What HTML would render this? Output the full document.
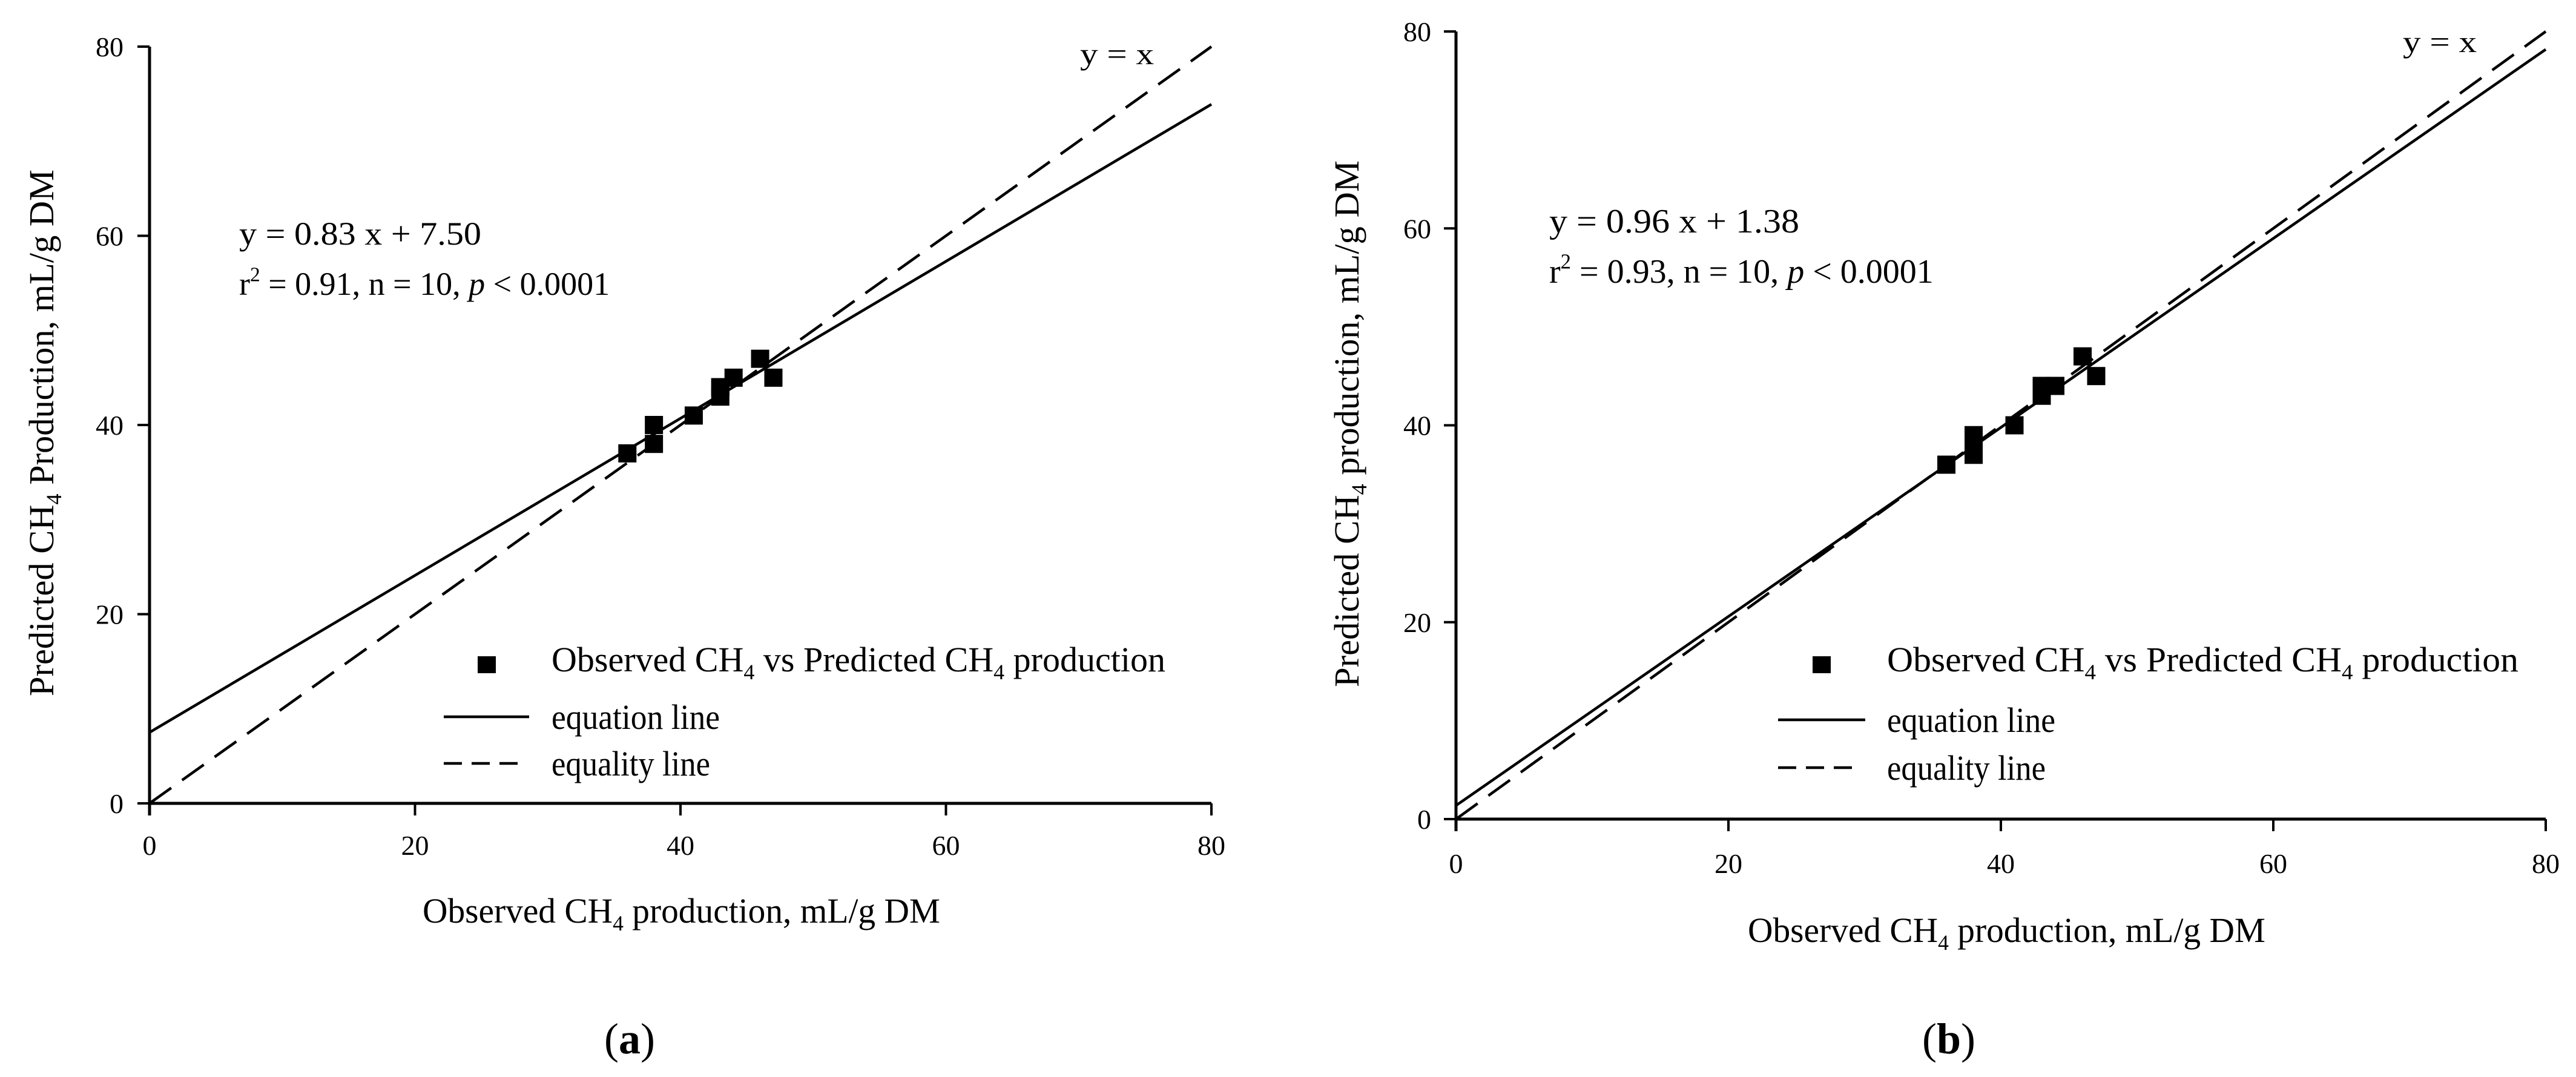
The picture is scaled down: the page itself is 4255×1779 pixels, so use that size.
<!DOCTYPE html>
<html><head><meta charset="utf-8">
<style>
html,body{margin:0;padding:0;background:#fff;}
svg{display:block;}
text{font-family:"Liberation Serif","Times New Roman",serif;fill:#000;}
</style></head>
<body>
<svg id="fig" width="4255" height="1779" viewBox="0 0 4255 1779" xmlns="http://www.w3.org/2000/svg">
<rect width="4255" height="1779" fill="#fff"/>
</svg>
<script>
// ---- data ----
const ticks = [0, 20, 40, 60, 80];
const tickLabels = ["0", "20", "40", "60", "80"];
const obsA = [36, 38, 38, 41, 43, 43, 44, 46, 47, 43];
const predA = [37, 40, 38, 41, 44, 43, 45, 47, 45, 44];
const slopeA = 0.83, interceptA = 7.50;
const obsB = [36, 38, 38, 41, 43, 43, 44, 46, 47, 38];
const predB = [36, 39, 37, 40, 44, 43, 44, 47, 45, 38];
const slopeB = 0.96, interceptB = 1.38;
const domainMax = 80;

const NS = "http://www.w3.org/2000/svg";
const svg = document.getElementById('fig');
function mk(tag, attrs, parent, txt) {
  const e = document.createElementNS(NS, tag);
  for (const k in attrs) e.setAttribute(k, attrs[k]);
  if (txt !== undefined) e.textContent = txt;
  (parent || svg).appendChild(e);
  return e;
}
function richText(parent, x, y, size, parts, extra) {
  const t = mk('text', Object.assign({x: x, y: y, 'font-size': size}, extra || {}), parent);
  parts.forEach(p => {
    const ts = mk('tspan', {}, t, p.t);
    if (p.sub) { ts.setAttribute('font-size', size * 0.62); ts.setAttribute('dy', size * 0.22); }
    if (p.sup) { ts.setAttribute('font-size', size * 0.62); ts.setAttribute('dy', -size * 0.42); }
    if (p.back) { ts.setAttribute('dy', p.back); }
    if (p.it) ts.setAttribute('font-style', 'italic');
  });
  return t;
}

function drawChart(c) {
  const g = mk('g', {});
  
  
  const sx = v => c.x0 + (c.x1 - c.x0) * v / domainMax;
  const sy = v => c.y0 - (c.y0 - c.y1) * v / domainMax;

  // axes
  const ax = mk('line', {x1: c.x0, y1: c.y0, x2: c.x1, y2: c.y0, stroke: '#000', 'stroke-width': 5}, g);
  
  
  const ay = mk('line', {x1: c.x0, y1: c.y0 + 20, x2: c.x0, y2: c.y1, stroke: '#000', 'stroke-width': 5}, g);
  
  
  ticks.forEach((v, i) => {
    const tx = mk('line', {x1: sx(v), y1: c.y0, x2: sx(v), y2: c.y0 + 20, stroke: '#000', 'stroke-width': 4}, g);
    
    
    const tl = mk('text', {x: sx(v), y: c.y0 + c.xlOff, 'font-size': 46, 'text-anchor': 'middle'}, g, tickLabels[i]);
    
    
    const ty = mk('line', {x1: c.x0 - 20, y1: sy(v), x2: c.x0, y2: sy(v), stroke: '#000', 'stroke-width': 4}, g);
    
    
    const yl = mk('text', {x: c.ylRight, y: sy(v) + 16, 'font-size': 46, 'text-anchor': 'end'}, g, tickLabels[i]);
    
    
  });

  // lines
  const eq = mk('line', {x1: sx(0), y1: sy(c.intercept), x2: sx(domainMax), y2: sy(c.slope * domainMax + c.intercept), stroke: '#000', 'stroke-width': 4.5}, g);
  
  
  const eql = mk('line', {x1: sx(0), y1: sy(0), x2: sx(domainMax), y2: sy(domainMax), stroke: '#000', 'stroke-width': 4.5, 'stroke-dasharray': '44 22'}, g);
  
  

  // points
  c.obs.forEach((o, i) => {
    const p = mk('rect', {x: sx(o) - 15, y: sy(c.pred[i]) - 15, width: 30, height: 30, fill: '#000'}, g);
    
    
  });

  // annotation
  const a1 = mk('text', {x: c.annX, y: c.annY, 'font-size': c.annSize, textLength: c.annW1, lengthAdjust: 'spacingAndGlyphs'}, g, c.eqText);
  
  
  const a2 = richText(g, c.annX, c.annY + c.annGap, c.annSize, [
    {t: 'r'}, {t: '2', sup: true}, {t: ' = ' + c.r2 + ', n = 10, ', back: c.annSize * 0.42}, {t: 'p', it: true}, {t: ' < 0.0001'}
  ]);
  
  
  const yx = mk('text', {x: c.yxX, y: c.yxY, 'font-size': 50, textLength: 122, lengthAdjust: 'spacingAndGlyphs'}, g, 'y = x');
  
  

  // legend
  const lg = mk('g', {}, g);
  
  
  const lm = mk('rect', {x: c.legMx - 15, y: c.legY - 14, width: 30, height: 28, fill: '#000'}, lg);
  
  
  const lt = richText(lg, c.legTx, c.legY + 11, 58, [
    {t: 'Observed CH'}, {t: '4', sub: true}, {t: ' vs Predicted CH', back: -58 * 0.22}, {t: '4', sub: true}, {t: ' production', back: -58 * 0.22}
  ], {textLength: c.legW, lengthAdjust: 'spacingAndGlyphs'});
  
  
  const l1 = mk('line', {x1: c.legL1, y1: c.legY + c.eqDy, x2: c.legL2, y2: c.legY + c.eqDy, stroke: '#000', 'stroke-width': 4.5}, lg);
  
  
  const t1 = mk('text', {x: c.legTx, y: c.legY + c.eqDy + 20, 'font-size': 58, textLength: 278, lengthAdjust: 'spacingAndGlyphs'}, lg, 'equation line');
  
  
  const l2 = mk('line', {x1: c.legL1, y1: c.legY + c.eqlDy, x2: c.legL2 - 10, y2: c.legY + c.eqlDy, stroke: '#000', 'stroke-width': 4.5, 'stroke-dasharray': '30 16'}, lg);
  
  
  const t2 = mk('text', {x: c.legTx, y: c.legY + c.eqlDy + 20, 'font-size': 58, textLength: 262, lengthAdjust: 'spacingAndGlyphs'}, lg, 'equality line');
  
  

  // axis titles
  const xt = richText(g, c.xtX, c.xtY, 58, [
    {t: 'Observed CH'}, {t: '4', sub: true}, {t: ' production, mL/g DM', back: -58 * 0.22}
  ], {textLength: 855, lengthAdjust: 'spacingAndGlyphs'});
  
  
  const ytg = mk('g', {transform: 'translate(' + c.ytX + ',' + c.ytY + ') rotate(-90)'}, g);
  const yt = richText(ytg, 0, 0, 58, [
    {t: 'Predicted CH'}, {t: '4', sub: true}, {t: ' ' + c.ytWord + ', mL/g DM', back: -58 * 0.22}
  ], {textLength: 870, lengthAdjust: 'spacingAndGlyphs'});
  
  

  // panel label
  const pl = richText(g, c.plX, 1740, 72, [{t: '('}, {t: c.panel}, {t: ')'}], {'text-anchor': 'middle'});
  pl.childNodes[1].setAttribute('font-weight', 'bold');
  
  
}

drawChart({name: 'chart-a', panel: 'a', x0: 247, x1: 2001, y0: 1327, y1: 77, xlOff: 85, ylRight: 204,
  obs: obsA, pred: predA, slope: slopeA, intercept: interceptA,
  eqText: 'y = 0.83 x + 7.50', r2: '0.91', annX: 395, annY: 404, annGap: 83, annSize: 54, annW1: 400,
  yxX: 1784, yxY: 106,
  legMx: 804, legTx: 911, legY: 1098, legW: 1014, legL1: 733, legL2: 874, eqDy: 86, eqlDy: 163,
  xtX: 698, xtY: 1524, ytX: 88, ytY: 1150, ytWord: 'Production', plX: 1040});
drawChart({name: 'chart-b', panel: 'b', x0: 2405, x1: 4205, y0: 1353, y1: 52, xlOff: 89, ylRight: 2364,
  obs: obsB, pred: predB, slope: slopeB, intercept: interceptB,
  eqText: 'y = 0.96 x + 1.38', r2: '0.93', annX: 2559, annY: 384, annGap: 83, annSize: 56, annW1: 413,
  yxX: 3969, yxY: 86,
  legMx: 3009, legTx: 3117, legY: 1098, legW: 1043, legL1: 2937, legL2: 3081, eqDy: 91, eqlDy: 170,
  xtX: 2887, xtY: 1556, ytX: 2244, ytY: 1135, ytWord: 'production', plX: 3219});
</script>
</body></html>
